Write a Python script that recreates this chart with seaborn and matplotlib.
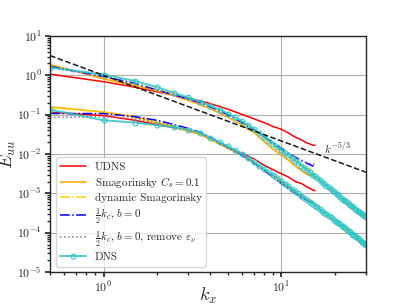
import numpy as np
import pandas as pd
import matplotlib
matplotlib.use("Agg")
import matplotlib.pyplot as plt
import seaborn as sns

# wavenumber grids
k_dns = np.arange(0.5, 30.01, 0.5)
k_les = [0.5, 1, 1.5, 2, 2.5, 3, 3.5, 4, 5, 6, 7, 8, 9, 10, 11, 12, 13, 14, 15, 15.5]

# DNS spectra (two components)
dns_hi = [1.58, 1.05, 0.72, 0.50, 0.355, 0.275, 0.214, 0.166, 0.135, 0.107,
          0.085, 0.069, 0.055, 0.0437, 0.034, 0.027, 0.0219, 0.0182, 0.0151, 0.0126,
          0.0107, 0.0093, 0.0079, 0.0068, 0.0059, 0.0051, 0.00447, 0.0039, 0.0034, 0.0030,
          0.0027, 0.0024, 0.00214, 0.0019, 0.00174, 0.00155, 0.00141, 0.00129, 0.00117, 0.00107,
          0.00098, 0.00089, 0.00081, 0.00074, 0.00069, 0.00063, 0.00059, 0.00054, 0.00050, 0.00047,
          0.00044, 0.00041, 0.00038, 0.00035, 0.00033, 0.00032, 0.000295, 0.000275, 0.000263, 0.000251]
dns_lo = [0.135, 0.072, 0.063, 0.054, 0.048, 0.042, 0.035, 0.026, 0.020, 0.0158,
          0.0126, 0.0102, 0.0081, 0.0063, 0.0050, 0.0042, 0.00347, 0.00295, 0.0025, 0.0021,
          0.00178, 0.00155, 0.00132, 0.00115, 0.0010, 0.00087, 0.00078, 0.00069, 0.00062, 0.00055,
          0.00049, 0.00044, 0.00040, 0.00035, 0.00032, 0.000295, 0.000269, 0.000245, 0.000224, 0.000204,
          0.00019, 0.000174, 0.000162, 0.000148, 0.000138, 0.000129, 0.00012, 0.00011, 0.000102, 0.0000955,
          0.000089, 0.000083, 0.0000776, 0.0000724, 0.0000676, 0.000063, 0.0000589, 0.000055, 0.0000513, 0.0000479]

udns_hi = [1.07, 0.69, 0.50, 0.38, 0.31, 0.257, 0.224, 0.19, 0.138, 0.102,
           0.079, 0.063, 0.050, 0.0427, 0.034, 0.0269, 0.0229, 0.019, 0.017, 0.0166]
udns_lo = [0.115, 0.095, 0.072, 0.056, 0.047, 0.039, 0.0316, 0.024, 0.0141, 0.0105,
           0.0076, 0.0052, 0.0040, 0.00316, 0.0026, 0.0020, 0.00178, 0.00145, 0.00123, 0.00117]

smag_hi = [1.9, 0.81, 0.55, 0.40, 0.30, 0.229, 0.178, 0.141, 0.087, 0.055,
           0.0355, 0.0209, 0.0132, 0.0095, 0.0069, 0.0049, 0.0038, 0.0030, 0.0028, 0.0032]
smag_lo = [0.158, 0.117, 0.089, 0.063, 0.050, 0.040, 0.0316, 0.024, 0.0141, 0.0093,
           0.0063, 0.0040, 0.0028, 0.0020, 0.00151, 0.00112, 0.00089, 0.00071, 0.0006, 0.00056]

dyn_hi = [1.78, 0.89, 0.60, 0.44, 0.33, 0.257, 0.204, 0.162, 0.102, 0.066,
          0.042, 0.026, 0.0174, 0.012, 0.0087, 0.0066, 0.0052, 0.0044, 0.0038, 0.0036]
dyn_lo = [0.151, 0.117, 0.085, 0.063, 0.049, 0.039, 0.031, 0.0234, 0.0138, 0.0091,
          0.006, 0.004, 0.00275, 0.002, 0.00145, 0.0011, 0.00085, 0.00069, 0.00058, 0.00054]

half_hi = [1.70, 0.93, 0.63, 0.42, 0.316, 0.251, 0.20, 0.158, 0.10, 0.063,
           0.042, 0.028, 0.019, 0.0141, 0.0105, 0.0083, 0.0069, 0.0058, 0.0050, 0.0048]
half_lo = [0.107, 0.107, 0.089, 0.072, 0.056, 0.0447, 0.0355, 0.0263, 0.0151, 0.0095,
           0.006, 0.0038, 0.00263, 0.00182, 0.00132, 0.0010, 0.00079, 0.00066, 0.00058, 0.00055]

rem_hi = [1.58, 0.91, 0.60, 0.42, 0.316, 0.245, 0.195, 0.155, 0.098, 0.063,
          0.042, 0.0275, 0.019, 0.0138, 0.0105, 0.0083, 0.0069, 0.006, 0.0055, 0.0056]
rem_lo = [0.085, 0.089, 0.079, 0.063, 0.051, 0.042, 0.033, 0.0245, 0.0145, 0.0093,
          0.0059, 0.0038, 0.00257, 0.00182, 0.00132, 0.0010, 0.00079, 0.00068, 0.0006, 0.00059]

sns.set_theme(style="whitegrid", rc={
    "axes.edgecolor": "0.15", "axes.linewidth": 1.0,
    "grid.color": "#b0b0b0", "grid.linewidth": 0.8,
    "xtick.bottom": True, "ytick.left": True,
    "xtick.major.size": 3.5, "ytick.major.size": 3.5,
    "xtick.minor.size": 2, "ytick.minor.size": 2,
    "xtick.major.pad": 2.5, "ytick.major.pad": 2.5,
    "xtick.color": "0.15", "ytick.color": "0.15",
})
plt.rcParams["font.family"] = "serif"
plt.rcParams["font.serif"] = ["cmr10", "DejaVu Serif"]
plt.rcParams["mathtext.fontset"] = "cm"
plt.rcParams["axes.formatter.use_mathtext"] = True

fig, ax = plt.subplots(figsize=(4.07, 3.05), dpi=100)
fig.subplots_adjust(left=0.123, right=0.899, bottom=0.108, top=0.882)

styles = [
    ("UDNS", udns_hi, udns_lo, "red", "-"),
    (r"Smagorinsky $C_s=0.1$", smag_hi, smag_lo, "orange", "-"),
    ("dynamic Smagorinsky", dyn_hi, dyn_lo, "gold", "-."),
    (r"$\frac{1}{2}k_c$, $b=0$", half_hi, half_lo, "blue", "-."),
    (r"$\frac{1}{2}k_c$, $b=0$, remove $\varepsilon_\nu$", rem_hi, rem_lo, "m", ":"),
]
for lab, hi, lo, col, ls in styles:
    sns.lineplot(x=k_les, y=hi, ax=ax, color=col, linestyle=ls, lw=1.1, label=lab)
    sns.lineplot(x=k_les, y=lo, ax=ax, color=col, linestyle=ls, lw=1.1)

for i, yy in enumerate([dns_hi, dns_lo]):
    sns.lineplot(x=k_dns, y=yy, ax=ax, color="#2ec4c4", alpha=0.85, lw=1.4, marker="o",
                 markersize=3.5, markerfacecolor="none", markeredgecolor="#2ec4c4",
                 markeredgewidth=0.9, label="DNS" if i == 0 else None)

# k^-5/3 reference
kk = np.array([0.5, 30])
sns.lineplot(x=kk, y=kk ** (-5.0 / 3.0), ax=ax, color="k", linestyle="--", lw=1.1)
ax.text(17.5, 0.0145, r"$k^{-5/3}$", fontsize=8, va="center", ha="left")

ax.set(xscale="log", yscale="log")
ax.set_xlim(0.5, 30)
ax.set_ylim(1e-5, 10)
ax.set_xlabel(r"$k_x$", fontsize=13)
ax.set_ylabel(r"$E_{uu}$", fontsize=13)
ax.xaxis.set_label_coords(0.5, -0.06)
ax.yaxis.set_label_coords(-0.1, 0.5)
ax.tick_params(labelsize=8.5)
ax.grid(True, which="major")
ax.grid(False, which="minor")

leg = ax.legend(loc="lower left", fontsize=8, frameon=True, fancybox=True, numpoints=1,
                framealpha=0.8, edgecolor="0.8", handlelength=2.3, labelspacing=0.3)

fig.savefig("out.png", dpi=100)
